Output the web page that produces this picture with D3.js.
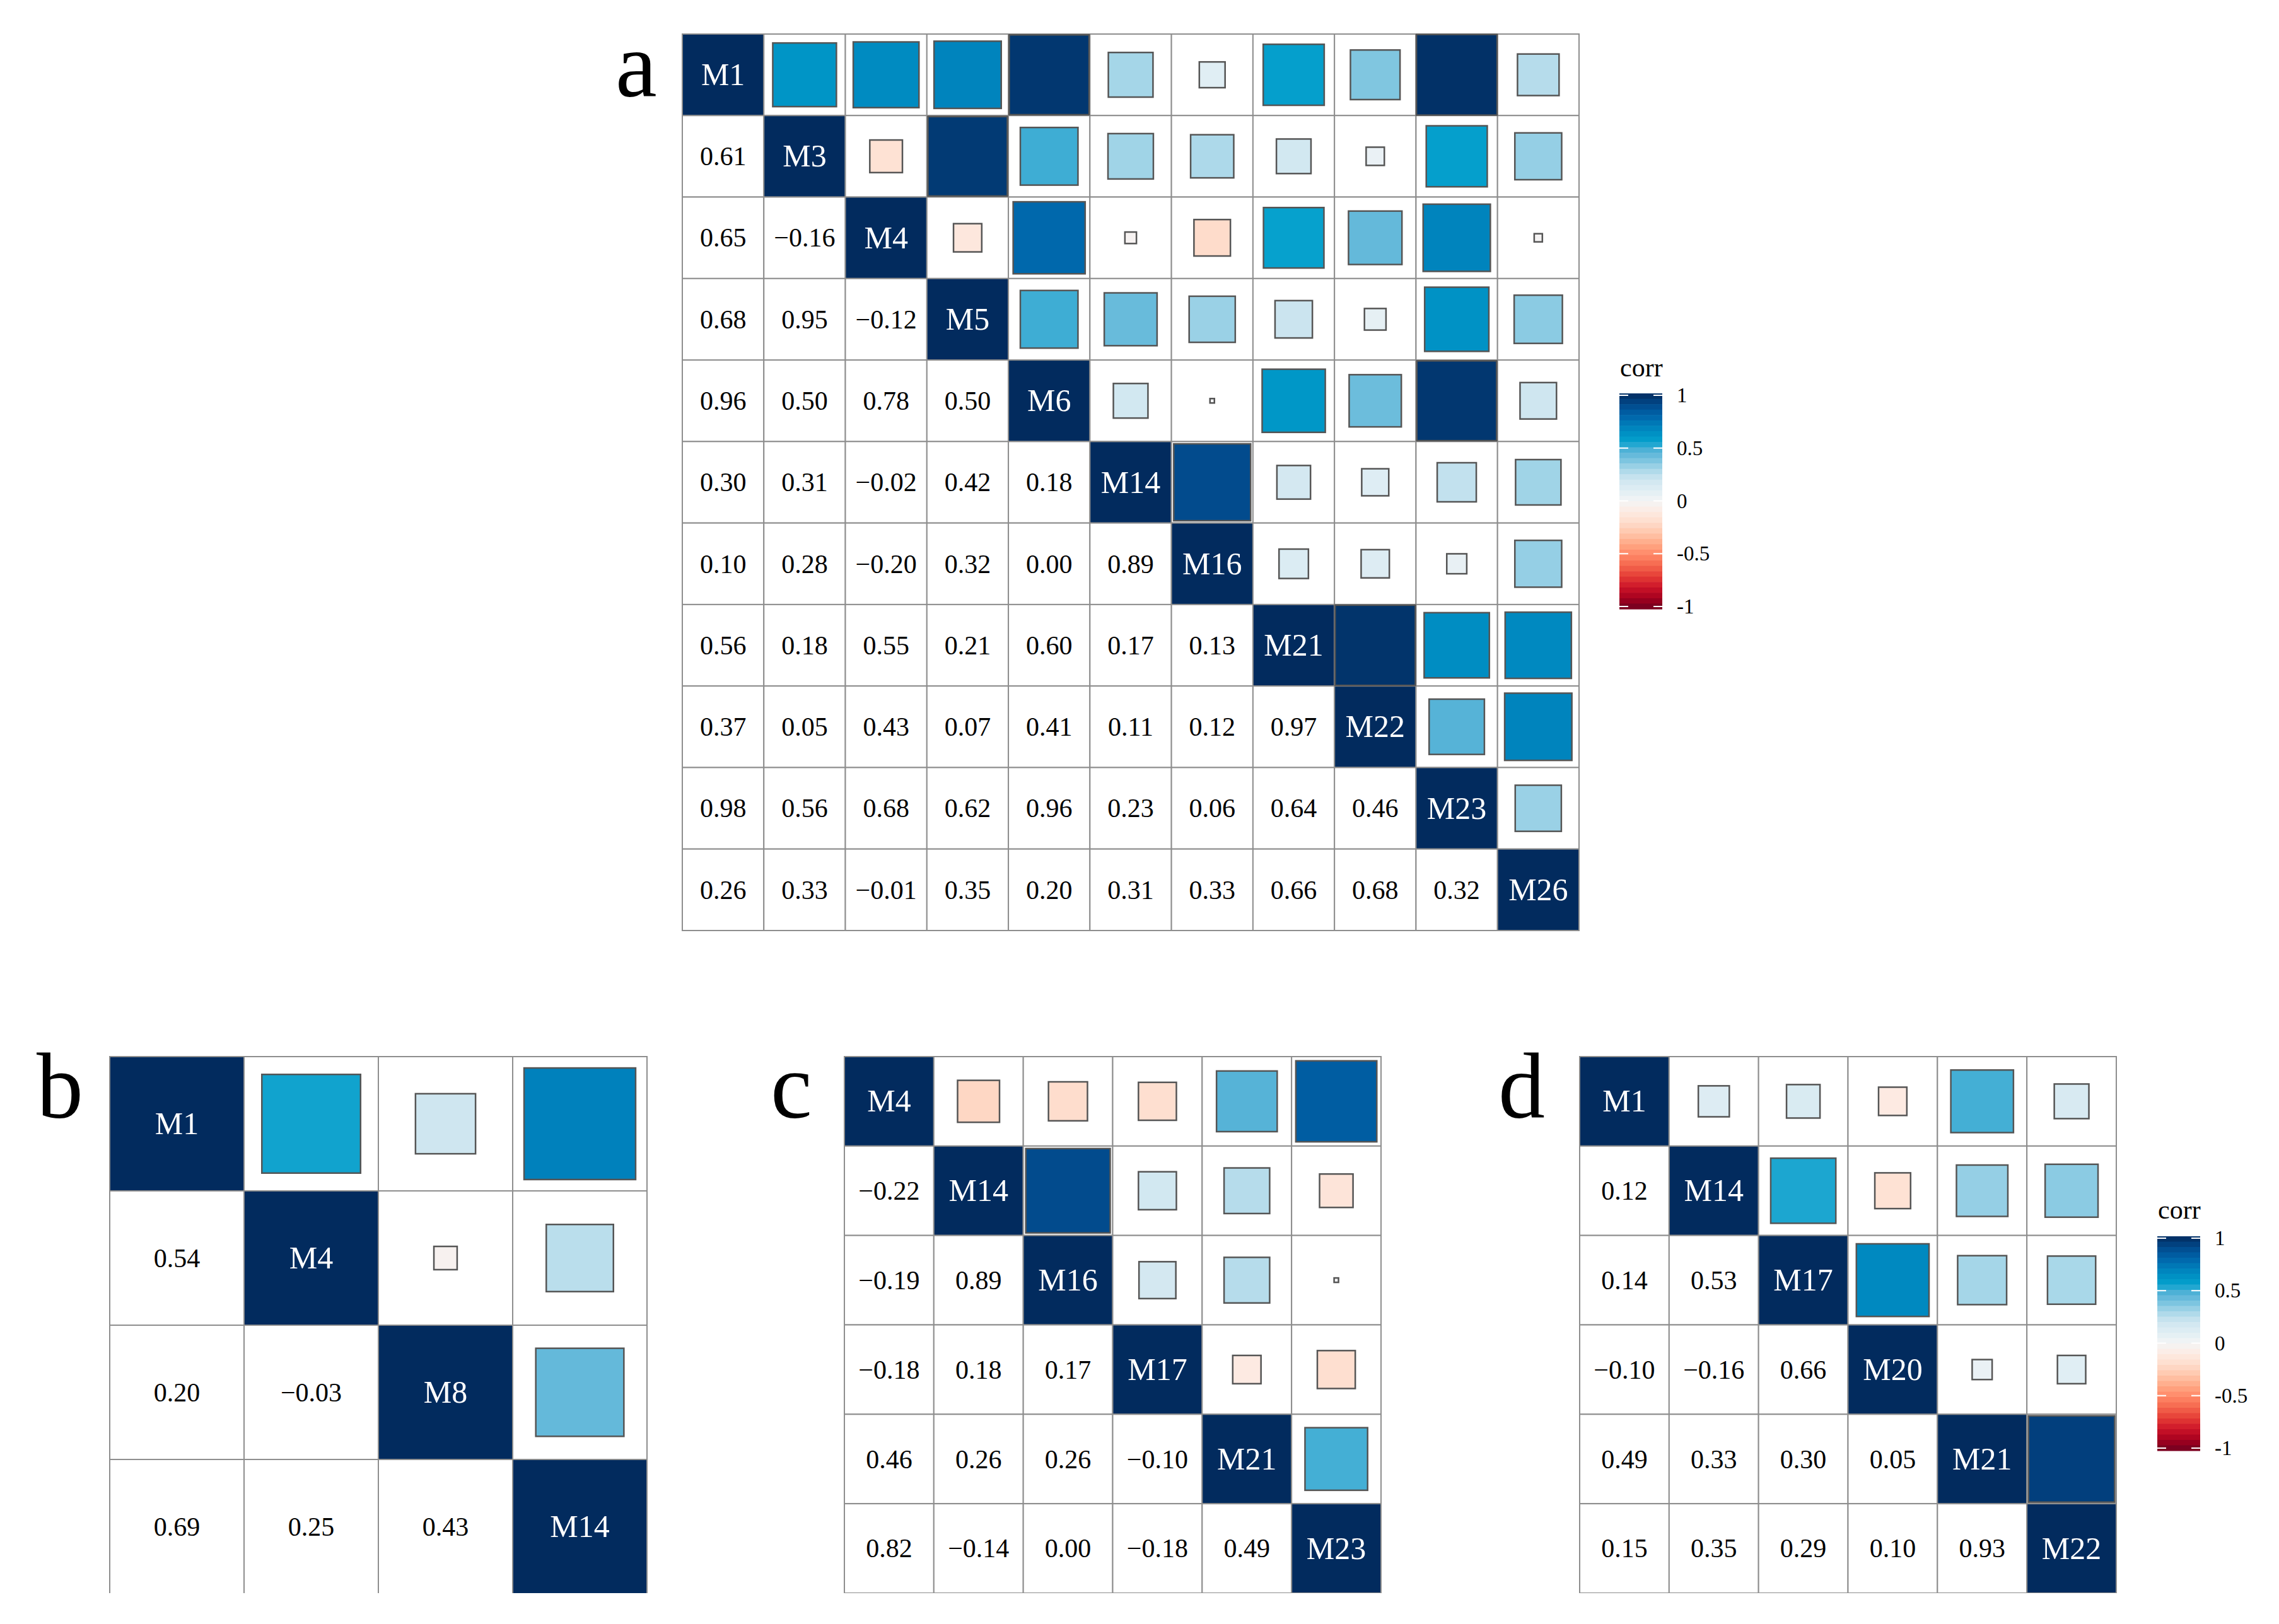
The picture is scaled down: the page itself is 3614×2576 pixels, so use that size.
<!DOCTYPE html>
<html>
<head>
<meta charset="utf-8">
<script src="https://cdn.jsdelivr.net/npm/d3@7"></script>
<style>
  html, body { margin: 0; padding: 0; background: #fff; }
  svg { display: block; }
</style>
</head>
<body>
<svg id="chart" width="3614" height="2576"></svg>
<script>
// variables of each panel, lower triangle of the correlation matrix (row i, columns 0..i-1)
const varsA = ['M1', 'M3', 'M4', 'M5', 'M6', 'M14', 'M16', 'M21', 'M22', 'M23', 'M26'];
const corrA = [
  [],
  [0.61],
  [0.65, -0.16],
  [0.68, 0.95, -0.12],
  [0.96, 0.50, 0.78, 0.50],
  [0.30, 0.31, -0.02, 0.42, 0.18],
  [0.10, 0.28, -0.20, 0.32, 0.00, 0.89],
  [0.56, 0.18, 0.55, 0.21, 0.60, 0.17, 0.13],
  [0.37, 0.05, 0.43, 0.07, 0.41, 0.11, 0.12, 0.97],
  [0.98, 0.56, 0.68, 0.62, 0.96, 0.23, 0.06, 0.64, 0.46],
  [0.26, 0.33, -0.01, 0.35, 0.20, 0.31, 0.33, 0.66, 0.68, 0.32]
];

const varsB = ['M1', 'M4', 'M8', 'M14'];
const corrB = [
  [],
  [0.54],
  [0.20, -0.03],
  [0.69, 0.25, 0.43]
];

const varsC = ['M4', 'M14', 'M16', 'M17', 'M21', 'M23'];
const corrC = [
  [],
  [-0.22],
  [-0.19, 0.89],
  [-0.18, 0.18, 0.17],
  [0.46, 0.26, 0.26, -0.10],
  [0.82, -0.14, 0.00, -0.18, 0.49]
];

const varsD = ['M1', 'M14', 'M17', 'M20', 'M21', 'M22'];
const corrD = [
  [],
  [0.12],
  [0.14, 0.53],
  [-0.10, -0.16, 0.66],
  [0.49, 0.33, 0.30, 0.05],
  [0.15, 0.35, 0.29, 0.10, 0.93]
];

const legendTicks = [1, 0.5, 0, -0.5, -1];

// colour ramp of the fill scale
const paletteDomain = [-1, -0.9, -0.8, -0.7, -0.6, -0.5, -0.4, -0.3, -0.2, -0.1, 0,
  0.1, 0.2, 0.3, 0.4, 0.45, 0.5, 0.55, 0.6, 0.7, 0.8, 0.9, 1];
const paletteRange = ['#6e0020', '#a5001e', '#cc1428', '#e43c36', '#f4654c', '#ff8766', '#ffa885', '#ffc5aa', '#fedccb', '#fdeae2', '#f4f4f5',
  '#e0eef4', '#cfe6f0', '#a5d6e8', '#70bfdd', '#5cb5d8', '#3eadd4', '#06a1cd', '#0097c7', '#007fbb', '#0062a8', '#02488a', '#022b5e'];

const fillColor = d3.scaleLinear().domain(paletteDomain).range(paletteRange).clamp(true);
const fmt = d3.format('.2f');
const font = '"Liberation Serif", "Times New Roman", serif';

const svg = d3.select('#chart');
svg.append('rect').attr('width', 3614).attr('height', 2576).attr('fill', '#fff');
svg.append('defs').append('clipPath')
  .attr('id', 'cut')
  .append('rect')
  .attr('x', 0).attr('y', 0)
  .attr('width', 3614).attr('height', 2527);

const corrAt = (corr, i, j) => {
  if (i === j) return 1;
  return i > j ? corr[i][j] : corr[j][i];
};

const drawPanel = (parent, p) => {
  let band = d3.scaleBand().domain(p.names).range([0, p.size]);
  let cell = band.bandwidth();
  let side = d3.scaleSqrt().domain([0, 1]).range([0, cell]);
  // a zero still gets a visible dot, as in the original
  let sq = (r) => Math.max(side(Math.abs(r)), 7);
  let outer = parent.append('g').attr('class', `panel-${p.key}`);
  if (p.clip) outer.attr('clip-path', 'url(#cut)');
  let g = outer.append('g').attr('transform', `translate(${p.x},${p.y})`);

  let cells = [];
  p.names.forEach((row, i) => {
    p.names.forEach((col, j) => {
      cells.push({ row, col, i, j, r: corrAt(p.corr, i, j) });
    });
  });

  g.selectAll('rect.cell')
    .data(cells)
    .enter().append('rect')
    .attr('class', 'cell')
    .attr('x', d => band(d.col))
    .attr('y', d => band(d.row))
    .attr('width', cell)
    .attr('height', cell)
    .attr('fill', d => d.i === d.j ? fillColor(1) : '#fff')
    .attr('stroke', '#8e8e8e')
    .attr('stroke-width', 2);

  g.selectAll('rect.square')
    .data(cells.filter(d => d.j > d.i))
    .enter().append('rect')
    .attr('class', 'square')
    .attr('x', d => band(d.col) + (cell - sq(d.r)) / 2)
    .attr('y', d => band(d.row) + (cell - sq(d.r)) / 2)
    .attr('width', d => sq(d.r))
    .attr('height', d => sq(d.r))
    .attr('fill', d => fillColor(d.r))
    .attr('stroke', '#555')
    .attr('stroke-width', 2.5);

  g.selectAll('text.value')
    .data(cells.filter(d => d.i > d.j))
    .enter().append('text')
    .attr('class', 'value')
    .attr('x', d => band(d.col) + cell / 2)
    .attr('y', d => band(d.row) + cell / 2)
    .attr('dy', '0.34em')
    .attr('text-anchor', 'middle')
    .attr('font-family', font)
    .attr('font-size', 42)
    .attr('fill', '#000')
    .text(d => fmt(d.r));

  g.selectAll('text.name')
    .data(cells.filter(d => d.i === d.j))
    .enter().append('text')
    .attr('class', 'name')
    .attr('x', d => band(d.col) + cell / 2)
    .attr('y', d => band(d.row) + cell / 2)
    .attr('dy', '0.33em')
    .attr('text-anchor', 'middle')
    .attr('font-family', font)
    .attr('font-size', 50)
    .attr('fill', '#fff')
    .text(d => d.row);

  parent.append('text')
    .attr('x', p.tag[0])
    .attr('y', p.tag[1])
    .attr('font-family', font)
    .attr('font-size', 148)
    .attr('fill', '#000')
    .text(p.key);
};

const drawLegend = (parent, lx, top, bottom, titleY) => {
  let barW = 68;
  let y = d3.scaleLinear().domain([-1, 1]).range([bottom, top]);
  let g = parent.append('g').attr('class', 'legend');
  let nb = 40;
  let y0 = y(1) - 3;
  let y1 = y(-1) + 4;
  let step = (y1 - y0) / nb;
  g.selectAll('rect.bin')
    .data(d3.range(nb))
    .enter().append('rect')
    .attr('class', 'bin')
    .attr('x', lx)
    .attr('y', k => y0 + k * step)
    .attr('width', barW)
    .attr('height', step + 0.6)
    .attr('fill', k => fillColor(1 - ((k + 0.5) / nb) * 2));
  g.selectAll('line.tl')
    .data(legendTicks)
    .enter().append('line')
    .attr('x1', lx).attr('x2', lx + 14)
    .attr('y1', d => y(d)).attr('y2', d => y(d))
    .attr('stroke', '#fff').attr('stroke-width', 2);
  g.selectAll('line.tr')
    .data(legendTicks)
    .enter().append('line')
    .attr('x1', lx + barW - 14).attr('x2', lx + barW)
    .attr('y1', d => y(d)).attr('y2', d => y(d))
    .attr('stroke', '#fff').attr('stroke-width', 2);
  g.selectAll('text.tick')
    .data(legendTicks)
    .enter().append('text')
    .attr('x', lx + barW + 23)
    .attr('y', d => y(d))
    .attr('dy', '0.34em')
    .attr('font-family', font)
    .attr('font-size', 33)
    .text(d => String(d));
  g.append('text')
    .attr('x', lx + 1)
    .attr('y', titleY)
    .attr('font-family', font)
    .attr('font-size', 42)
    .text('corr');
};

const panels = [
  { key: 'a', names: varsA, corr: corrA, x: 1082, y: 54, size: 1422, tag: [976, 153], clip: false },
  { key: 'b', names: varsB, corr: corrB, x: 174, y: 1676, size: 852, tag: [58, 1773], clip: true },
  { key: 'c', names: varsC, corr: corrC, x: 1339, y: 1676, size: 851, tag: [1222, 1773], clip: true },
  { key: 'd', names: varsD, corr: corrD, x: 2505, y: 1676, size: 851, tag: [2376, 1773], clip: true }
];

panels.forEach(p => drawPanel(svg, p));
drawLegend(svg, 2568, 627, 962, 597);
drawLegend(svg, 3421, 1964, 2297, 1933);
</script>
</body>
</html>
